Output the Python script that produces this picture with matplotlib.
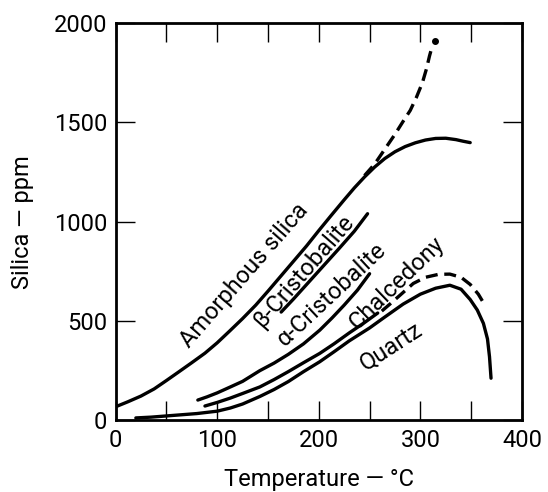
import matplotlib
matplotlib.use('Agg')
import matplotlib.pyplot as plt
from matplotlib.ticker import MultipleLocator

plt.rcParams['font.family'] = ['Roboto', 'DejaVu Sans']

# Amorphous silica (solid part and dashed extension)
amorph_x = [0, 12, 25, 38, 50, 62, 75, 88, 100, 112, 125, 138, 150, 162, 175, 188,
            200, 212, 225, 235, 245, 255, 265, 275, 285, 295, 305, 315, 325, 335, 342, 349]
amorph_y = [68, 93, 122, 158, 200, 243, 290, 338, 390, 448, 512, 580, 650, 722, 800, 878,
            955, 1030, 1110, 1170, 1225, 1275, 1318, 1352, 1378, 1397, 1411, 1419, 1420, 1413, 1405, 1398]
amorph_dash_x = [245, 255, 265, 275, 283, 290, 296, 302, 306, 309, 312]
amorph_dash_y = [1232, 1290, 1365, 1440, 1505, 1560, 1625, 1700, 1770, 1835, 1890]
amorph_dot = (314, 1912)

# beta-cristobalite
beta_x = [163, 175, 190, 205, 220, 235, 248]
beta_y = [545, 610, 695, 780, 865, 952, 1040]

# alpha-cristobalite
alpha_x = [81, 90, 100, 113, 125, 142, 156, 170, 185, 201, 213, 225, 238, 250]
alpha_y = [102, 118, 138, 168, 196, 250, 288, 332, 385, 454, 515, 580, 655, 738]

# chalcedony (solid and dashed)
chal_x = [88, 100, 113, 125, 142, 156, 170, 185, 201, 215, 230, 245, 258]
chal_y = [72, 90, 112, 135, 168, 205, 245, 290, 337, 385, 440, 492, 540]
chal_dash_x = [262, 270, 280, 293, 305, 318, 329, 340, 349, 357, 364]
chal_dash_y = [550, 585, 630, 689, 720, 735, 736, 720, 684, 635, 575]

# quartz
quartz_x = [20, 35, 50, 65, 80, 100, 113, 125, 142, 156, 170, 185, 201, 215, 230, 250,
            265, 283, 300, 315, 329, 340, 349, 356, 362, 366, 368, 369.5]
quartz_y = [12, 16, 22, 28, 34, 46, 62, 82, 120, 155, 195, 245, 295, 345, 400, 465,
            520, 585, 635, 665, 680, 660, 608, 555, 488, 410, 320, 212]

fig = plt.figure(figsize=(5.48, 4.92), dpi=100)
ax = fig.add_axes([0.2108, 0.1457, 0.7418, 0.8075])

lw = 2.4
ax.plot(amorph_x, amorph_y, color='black', lw=lw, solid_capstyle='round')
ax.plot(amorph_dash_x, amorph_dash_y, color='black', lw=lw, dashes=(3.6, 2.0))
ax.plot(amorph_dot[0], amorph_dot[1], 'o', color='black', ms=4)
ax.plot(beta_x, beta_y, color='black', lw=lw, solid_capstyle='round')
ax.plot(alpha_x, alpha_y, color='black', lw=lw, solid_capstyle='round')
ax.plot(chal_x, chal_y, color='black', lw=lw, solid_capstyle='round')
ax.plot(chal_dash_x, chal_dash_y, color='black', lw=lw, dashes=(3.6, 2.0))
ax.plot(quartz_x, quartz_y, color='black', lw=lw, solid_capstyle='round')

# curve labels
lab = dict(fontsize=17, ha='center', va='center', rotation_mode='anchor')
ax.text(127, 728, 'Amorphous silica', rotation=49, **lab)
ax.text(185, 748, 'β-Cristobalite', rotation=49, **lab)
ax.text(213, 632, 'α-Cristobalite', rotation=43, **lab)
ax.text(277, 690, 'Chalcedony', rotation=44, **lab)
ax.text(271, 375, 'Quartz', rotation=33, **lab)

ax.set_xlim(0, 400)
ax.set_ylim(0, 2000)
ax.xaxis.set_major_locator(MultipleLocator(100))
ax.xaxis.set_minor_locator(MultipleLocator(50))
ax.yaxis.set_major_locator(MultipleLocator(500))
ax.tick_params(which='both', direction='in', top=True, right=True,
               length=14, width=1.0, labelsize=17, pad=6)
for s in ax.spines.values():
    s.set_linewidth(2)

ax.set_xlabel('Temperature — °C', fontsize=17, labelpad=12)
ax.set_ylabel('Silica — ppm', fontsize=17, labelpad=14)

fig.savefig('out.png', dpi=100)
